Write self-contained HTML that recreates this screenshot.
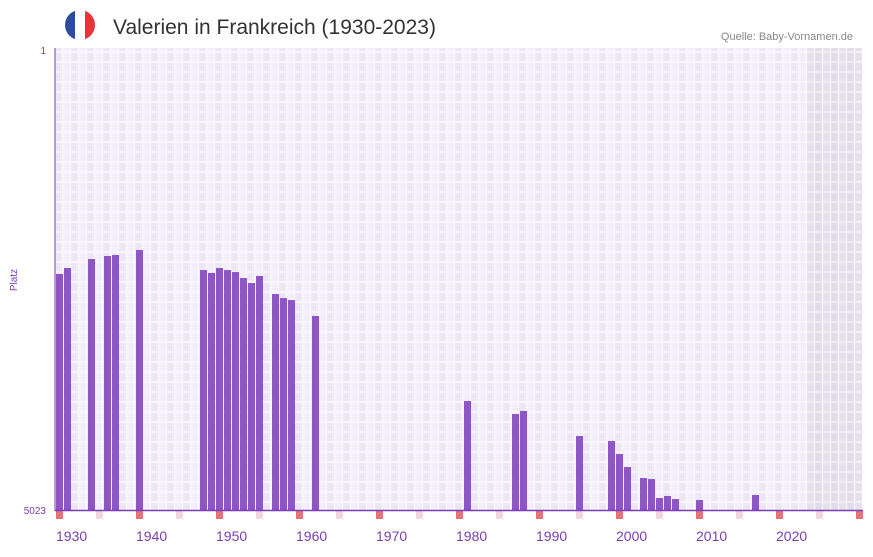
<!DOCTYPE html>
<html><head><meta charset="utf-8"><style>
body{margin:0;background:#fff;font-family:"Liberation Sans",sans-serif}
svg text{font-family:"Liberation Sans",sans-serif}
</style></head><body>
<svg id="c" width="873" height="552" xmlns="http://www.w3.org/2000/svg">
<defs><clipPath id="fc"><circle cx="80" cy="25" r="15"/></clipPath></defs>
<g clip-path="url(#fc)">
<rect x="65" y="10" width="10" height="30" fill="#2b4da0"/><rect x="75" y="10" width="10" height="30" fill="#fff"/><rect x="85" y="10" width="10" height="30" fill="#e8333b"/>
</g>
<text x="113" y="34" font-size="21" fill="#333">Valerien in Frankreich (1930-2023)</text>
<text x="853" y="40" font-size="11" fill="#888" text-anchor="end">Quelle: Baby-Vornamen.de</text>
<text x="17" y="280" font-size="10" fill="#7a3fb0" transform="rotate(-90 17 280)" text-anchor="middle">Platz</text>
<text x="46" y="54" font-size="10" fill="#7a3fb0" text-anchor="end">1</text>
<text x="46" y="514" font-size="10" fill="#7a3fb0" text-anchor="end">5023</text>
<g id="bg"></g><g id="bars"></g><g id="marks"></g><g id="xl"></g>
<line x1="55" y1="48" x2="55" y2="511" stroke="#7a3fb0" stroke-width="1"/>
<line x1="55" y1="510.5" x2="863" y2="510.5" stroke="#7a3fb0" stroke-width="1.5"/>
</svg>
<script>
const years=[1930,1931,1934,1936,1937,1940,1948,1949,1950,1951,1952,1953,1954,1955,1957,1958,1959,1962,1981,1987,1988,1995,1999,2000,2001,2003,2004,2005,2006,2007,2010,2017];
const ranks=[2446,2381,2283,2250,2239,2184,2403,2435,2381,2403,2425,2490,2545,2468,2665,2709,2731,2905,3833,3975,3942,4215,4270,4412,4554,4674,4685,4892,4870,4903,4914,4859];
const xTicks=[1930,1940,1950,1960,1970,1980,1990,2000,2010,2020];
const startYear=1930,endYear=2030,minRank=1,maxRank=5023;
const NS="http://www.w3.org/2000/svg";
const x=y=>55+(y-startYear)*8;
const yS=r=>50+(r-minRank)/(maxRank-minRank)*460;
function mk(t,a,p){const e=document.createElementNS(NS,t);for(const k in a)e.setAttribute(k,a[k]);p.appendChild(e);return e;}
const bg=document.getElementById('bg');
for(let yr=startYear;yr<=endYear;yr++){
  const fut=yr>=2024;
  const r=mk('rect',{x:x(yr),y:48,width:8,height:462,fill:fut?((yr%2)?'#e0dcea':'#e4e0ee'):((yr%2)?'#f2eefb':'#ece7f7')},bg);
  
  
}
for(let yr=startYear;yr<=endYear+1;yr++){mk('line',{x1:x(yr)-0.5,y1:48,x2:x(yr)-0.5,y2:510,stroke:'#fff','stroke-width':1},bg);}
for(let gy=52;gy<510;gy+=10){mk('line',{x1:55,y1:gy,x2:863,y2:gy,stroke:'#fff','stroke-width':1},bg);}
const bars=document.getElementById('bars');
years.forEach((yr,i)=>{
  const t=yS(ranks[i]);
  const b=mk('rect',{x:x(yr)+1,y:t,width:7,height:510-t,fill:'#8e55c6'},bars);
  
  
});
const marks=document.getElementById('marks');
for(let yr=startYear;yr<=endYear;yr+=5){
  const m=mk('rect',{x:x(yr)+1,y:511,width:7,height:8,fill:(yr%10===0)?'#e6737a':'#f2d6e0'},marks);
  
  
}
const xl=document.getElementById('xl');
xTicks.forEach(yr=>{
  const t=mk('text',{x:x(yr)+1,y:541,'font-size':14,fill:'#7a3fb0'},xl);
  t.textContent=yr;
  
  
});
</script>
</body></html>
